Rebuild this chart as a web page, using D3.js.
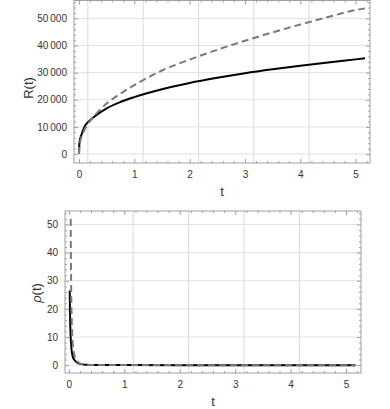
<!DOCTYPE html>
<html><head><meta charset="utf-8">
<script src="https://cdn.jsdelivr.net/npm/d3@7"></script>
<style>body{margin:0;background:#fff}svg{display:block}text{font-family:"Liberation Sans",Arial,sans-serif}</style>
</head><body>
<svg id="c" width="390" height="409"></svg>
<script>
// ---- data ----
const tR = [0, 0.005, 0.01, 0.02, 0.05, 0.1, 0.15, 0.2, 0.3, 0.5, 0.75, 1, 1.5, 2, 2.5, 3, 3.5, 4, 4.5, 5, 5.17];
const Rsolid = [0, 3000, 4400, 5500, 7400, 10100, 11500, 12500, 14150, 16850, 19200, 21000, 23900, 26200, 28100, 29800, 31250, 32550, 33750, 34900, 35300];
const Rdash  = [0, 2000, 3000, 4400, 6500, 8950, 10800, 12150, 14600, 18600, 22250, 25400, 30800, 34800, 38450, 41750, 44850, 47750, 50500, 53100, 53700];
const tRho = [0.015, 0.02, 0.025, 0.03, 0.04, 0.05, 0.07, 0.1, 0.15, 0.2, 0.3, 0.5, 1, 2, 3, 4, 5, 5.17];
const rhoSolid = [26.5, 19, 14, 11, 7.5, 5.2, 3, 1.8, 0.9, 0.45, 0.15, 0.05, 0.01, 0, 0, 0, 0, 0];
const tRhoD = [0.033, 0.036, 0.04, 0.045, 0.05, 0.06, 0.07, 0.1, 0.15, 0.2, 0.3, 0.5, 1, 2, 3, 4, 5, 5.17];
const rhoDash = [52, 40, 30, 22, 17, 11, 7.5, 3.5, 1.4, 0.6, 0.18, 0.05, 0.01, 0, 0, 0, 0, 0];
const xTicks = [0, 1, 2, 3, 4, 5];
const yTicksR = [0, 10000, 20000, 30000, 40000, 50000];
const yTicksRho = [0, 10, 20, 30, 40, 50];
const gridXTop = [0.16, 1.16, 2.16, 3.16, 4.16];
const gridXBot = [1.16, 2.16, 3.16, 4.16];

const svg = d3.select("#c");
const loc = d3.formatLocale({decimal: ".", thousands: "\u2009", grouping: [3], currency: ["", ""]});
const fmtR = loc.format(",d");

function panel(o) {
  const x = d3.scaleLinear().domain(o.xd).range([o.l, o.r]);
  const y = d3.scaleLinear().domain(o.yd).range([o.b, o.t]);
  const g = svg.append("g");
  g.selectAll(".gx").data(o.gridX).join("line")
    .attr("x1", d => x(d)).attr("x2", d => x(d)).attr("y1", o.t).attr("y2", o.b)
    .attr("stroke", "#d9d9d9").attr("stroke-width", 1);
  g.selectAll(".gy").data(o.yTicks).join("line")
    .attr("x1", o.l).attr("x2", o.r).attr("y1", d => y(d)).attr("y2", d => y(d))
    .attr("stroke", "#e0e0e0").attr("stroke-width", 1);
  const line = d3.line().curve(d3.curveMonotoneX);
  g.append("path").attr("d", line(o.ts.map((t, i) => [x(t), y(o.s[i])])))
    .attr("fill", "none").attr("stroke", "#000").attr("stroke-width", 2);
  g.append("path").attr("d", line(o.td.map((t, i) => [x(t), y(o.d[i])])))
    .attr("fill", "none").attr("stroke", "#7a7a7a").attr("stroke-width", 2).attr("stroke-dasharray", "7,4");
  g.append("rect").attr("x", o.l).attr("y", o.t).attr("width", o.r - o.l).attr("height", o.b - o.t)
    .attr("fill", "none").attr("stroke", "#a0a0a0").attr("stroke-width", 1);
  const xMinor = d3.range(0, o.xd[1], 0.2).map(v => +v.toFixed(2)).filter(v => !xTicks.includes(v));
  const yMinor = d3.range(0, o.yd[1], o.ystep / 5).filter(v => !o.yTicks.includes(+v.toFixed(6)));
  const axB = d3.axisBottom(x).tickValues(xTicks).tickSize(-4).tickPadding(8).tickFormat(d3.format("d"));
  const axBm = d3.axisBottom(x).tickValues(xMinor).tickSize(-2).tickFormat("");
  const axT = d3.axisTop(x).tickValues(xTicks).tickSize(-4).tickFormat("");
  const axTm = d3.axisTop(x).tickValues(xMinor).tickSize(-2).tickFormat("");
  const axL = d3.axisLeft(y).tickValues(o.yTicks).tickSize(-4).tickPadding(7).tickFormat(o.fmt);
  const axLm = d3.axisLeft(y).tickValues(yMinor).tickSize(-2).tickFormat("");
  const axR = d3.axisRight(y).tickValues(o.yTicks).tickSize(-4).tickFormat("");
  const axRm = d3.axisRight(y).tickValues(yMinor).tickSize(-2).tickFormat("");
  const put = (ax, tr) => {
    const a = g.append("g").attr("transform", tr).call(ax);
    a.select(".domain").remove();
    a.selectAll("line").attr("stroke", "#a0a0a0");
    a.selectAll("text").attr("fill", "#333").style("font-size", "10px");
  };
  put(axB, `translate(0,${o.b})`); put(axBm, `translate(0,${o.b})`);
  put(axT, `translate(0,${o.t})`); put(axTm, `translate(0,${o.t})`);
  put(axL, `translate(${o.l},0)`); put(axLm, `translate(${o.l},0)`);
  put(axR, `translate(${o.r},0)`); put(axRm, `translate(${o.r},0)`);
  g.append("text").attr("x", (o.l + o.r) / 2 + o.tdx).attr("y", o.b + 33).attr("text-anchor", "middle")
    .attr("fill", "#333").style("font-size", "13px").text("t");
  const yl = g.append("text").attr("transform", `translate(${o.ylx},${o.yly}) rotate(-90)`)
    .attr("text-anchor", "middle").attr("fill", "#333").style("font-size", "13px");
  o.ylab(yl);
}

panel({l: 74, r: 370, t: 0.5, b: 163, xd: [-0.09, 5.26], yd: [-3300, 56600], ystep: 10000,
  yTicks: yTicksR, fmt: fmtR, gridX: gridXTop, ts: tR, s: Rsolid, td: tR, d: Rdash, ylx: 33, yly: 88, tdx: 0,
  ylab: t => t.text("R(t)")});
panel({l: 65, r: 361, t: 211, b: 373, xd: [-0.07, 5.27], yd: [-2.8, 54.8], ystep: 10,
  yTicks: yTicksRho, fmt: d3.format("d"), gridX: gridXBot, ts: tRho, s: rhoSolid, td: tRhoD, d: rhoDash, ylx: 41, yly: 293, tdx: 0,
  ylab: t => { t.append("tspan").style("font-style", "italic").text("ρ"); t.append("tspan").text("(t)"); }});
</script>
</body></html>
